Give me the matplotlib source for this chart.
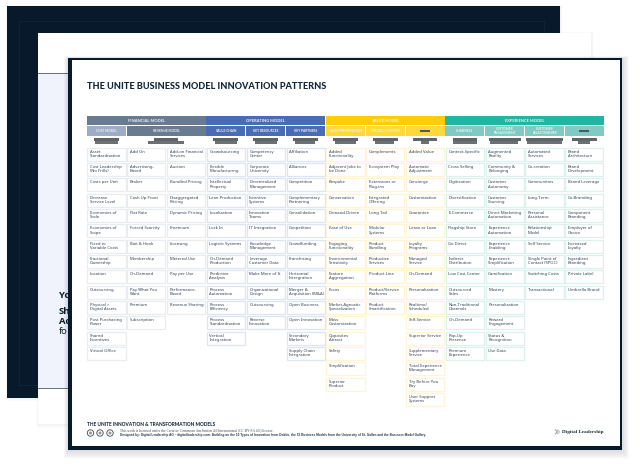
import matplotlib
matplotlib.use("Agg")
import matplotlib.pyplot as plt
from matplotlib.patches import Rectangle, Circle, Polygon

TITLE = "THE UNITE BUSINESS MODEL INNOVATION PATTERNS"
GROUPS = ["FINANCIAL MODEL", "OPERATING MODEL", "VALUE MODEL", "EXPERIENCE MODEL"]
SUBHEADS = ["COST MODEL", "REVENUE MODEL", "VALUE CHAIN", "KEY RESOURCES", "KEY PARTNERS",
            "VALUE PROPOSITION", "PRODUCT SYSTEM", "", "CHANNELS",
            "CUSTOMER\nENGAGEMENT", "CUSTOMER\nRELATIONSHIPS", ""]

col_cost = ["Asset\nStandardisation", "Cost Leadership\n(No Frills)", "Costs per Unit", "Decrease\nService Level",
            "Economies of\nScale", "Economies of\nScope", "Fixed to\nVariable Costs", "Fractional\nOwnership",
            "Location", "Outsourcing", "Physical >\nDigital Assets", "Post Purchasing\nPower",
            "Shared\nIncentives", "Virtual Office"]
col_rev1 = ["Add On", "Advertising-\nBased", "Broker", "Cash Up Front", "Flat Rate", "Forced Scarcity",
            "Bait & Hook", "Membership", "On-Demand", "Pay What You\nWant", "Premium", "Subscription"]
col_rev2 = ["Add-on Financial\nServices", "Auction", "Bundled Pricing", "Disaggregated\nPricing", "Dynamic Pricing",
            "Freemium", "Licensing", "Metered Use", "Pay per Use", "Performance-\nBased", "Revenue Sharing"]
col_chain = ["Crowdsourcing", "Flexible\nManufacturing", "Intellectual\nProperty", "Lean Production", "Localization",
             "Lock In", "Logistic Systems", "On-Demand\nProduction", "Predictive\nAnalysis", "Process\nAutomation",
             "Process\nEfficiency", "Process\nStandardisation", "Vertical\nIntegration"]
col_res = ["Competency\nCenter", "Corporate\nUniversity", "Decentralized\nManagement", "Incentive\nSystems",
           "Innovation\nTeams", "IT Integration", "Knowledge\nManagement", "Leverage\nCustomer Data",
           "Make More of It", "Organizational\nDesign", "Outsourcing", "Reverse\nInnovation"]
col_part = ["Affiliation", "Alliances", "Competition", "Complementary\nPartnering", "Consolidation", "Coopetition",
            "Crowdfunding", "Franchising", "Horizontal\nIntergration", "Merger &\nAcquisition (M&A)", "Open Business",
            "Open Innovation", "Secondary\nMarkets", "Supply Chain\nIntegration"]
col_prop = ["Added\nFunctionality", "Adjacent Jobs to\nbe Done", "Bespoke", "Conservation", "Demand-Driven",
            "Ease of Use", "Engaging\nFunctionality", "Environmental\nSensitivity", "Feature\nAggregation", "Focus",
            "Market-Agnostic\nSpecialization", "Mass\nCustomization", "Opposites\nAttract", "Safety",
            "Simplification", "Superior\nProduct"]
col_sys = ["Complements", "Ecosystem Play", "Extensions or\nPlug-ins", "Integrated\nOffering", "Long Tail",
           "Modular\nSystems", "Product\nBundling", "Productize\nServices", "Product Line",
           "Product/Service\nPlatforms", "Product\nSmartification"]
col_val = ["Added Value", "Automatic\nAdjustment", "Concierge", "Customization", "Guarantee", "Lease or Loan",
           "Loyalty\nPrograms", "Managed\nService", "On-Demand", "Personalization", "Realtime/\nScheduled",
           "Self-Service", "Superior Service", "Supplementary\nService", "Total Experience\nManagement",
           "Try Before You\nBuy", "User Support\nSystems"]
col_chan = ["Context-Specific", "Cross Selling", "Digitization", "Diversification", "E-Commerce", "Flagship Store",
            "Go Direct", "Indirect\nDistribution", "Low Cost Center", "Outsourced\nSales", "Non-Traditional\nChannels",
            "On-Demand", "Pop-Up\nPresence", "Premium\nExperience"]
col_eng = ["Augmented\nReality", "Community &\nBelonging", "Customer\nAutonomy", "Customer\nSourcing",
           "Direct Marketing\nAutomation", "Experience\nAutomation", "Experience\nEnabling", "Experience\nSimplification",
           "Gamification", "Mastery", "Personalization", "Reward\nEngagement", "Status &\nRecognition", "Use Data"]
col_rel = ["Automated\nServices", "Co-creation", "Communities", "Long-Term", "Personal\nAssistance",
           "Relationship\nModel", "Self Service", "Single Point of\nContact (SPOC)", "Switching Costs", "Transactional"]
col_brand = ["Brand\nArchitecture", "Brand\nDevelopment", "Brand Leverage", "Co-Branding", "Component\nBranding",
             "Employer of\nChoice", "Increased\nLoyalty", "Ingredient\nBranding", "Private Label", "Umbrella Brand"]
COLUMNS = [col_cost, col_rev1, col_rev2, col_chain, col_res, col_part, col_prop, col_sys, col_val,
           col_chan, col_eng, col_rel, col_brand]

FOOT_TITLE = "THE UNITE INNOVATION & TRANSFORMATION MODELS"
FOOT_1 = "This work is licensed under the Creative Commons Attribution 4.0 International (CC BY-SA 4.0) license."
FOOT_2 = ("Designed by: Digital Leadership AG – digitalleadership.com. Building on the 10 Types of Innovation from "
          "Doblin, the 55 Business Models from the University of St. Gallen and the Business Model Gallery.")
LOGO = "Digital Leadership"
BACK_TEXT = [("Yo", 296, "bold"), ("Sh", 312, "bold"), ("Ac", 322, "bold"), ("fo", 332, "normal")]

# layout of the artwork, in pixels
DARK = "#07192a"
X0, PITCH, W = 87.0, 39.82, 39.0
Y0, RPITCH, H = 147.3, 15.33, 13.7
group_span = [(0, 3), (3, 6), (6, 9), (9, 13)]
group_col = ["#697b91", "#4a6cb5", "#ffcc05", "#20b6a3"]
sub_span = [(0, 1), (1, 3), (3, 4), (4, 5), (5, 6), (6, 7), (7, 8), (8, 9), (9, 10), (10, 11), (11, 12), (12, 13)]
sub_col = ["#9dadc6", "#697b91", "#4a6cb5", "#4a6cb5", "#4a6cb5", "#ffd83c", "#ffd83c", "#ffd83c",
           "#7fcbc3", "#7fcbc3", "#7fcbc3", "#7fcbc3"]
edge_col = ["#e9edf2"] * 3 + ["#dde4f2"] * 3 + ["#fff5d6"] * 3 + ["#dcf0ed"] * 4
grey_bars = [(94, 119, 95, 118), (154, 178, 148, 184), (213, 238, 215, 237), (253, 278, 255, 277),
             (293, 318, 295, 315), (333, 358, 335, 356), (373, 398, 375, 394), (413, 437, 421, 429),
             (453, 477, 453, 477), (489, 521, 490, 518), (526, 563, 527, 562), (572, 597, 578, 590)]

fig = plt.figure(figsize=(6.4, 4.68), dpi=100, facecolor="#ffffff")
ax = fig.add_axes([0, 0, 1, 1])
ax.set_xlim(0, 640)
ax.set_ylim(468, 0)
ax.axis("off")


def rect(x0, y0, x1, y1, color, z, **kw):
    ax.add_patch(Rectangle((x0, y0), x1 - x0, y1 - y0, facecolor=color, edgecolor="none", zorder=z, **kw))


def shadow(x0, y0, x1, y1, z, spread, alpha):
    for i in range(spread, 0, -1):
        rect(x0 - i * 0.5, y0 - i * 0.2, x1 + i * 0.8, y1 + i, "#1c2a3a", z, alpha=alpha)


# back card
shadow(7, 6, 560, 398, 1, 3, 0.015)
rect(7, 6, 560, 398, DARK, 2)
ax.add_patch(Rectangle((19, 21), 525, 364, facecolor="none", edgecolor="#10263a", lw=0.6, zorder=3))

# middle card
shadow(38, 33, 591, 424, 4, 4, 0.012)
rect(38, 33, 591, 424, "#ffffff", 5)
rect(38, 73, 591, 388, "#f0f2fc", 6)
ax.plot([38, 591], [73, 73], color="#4a5866", lw=0.6, zorder=7)
ax.plot([38, 591], [388, 388], color="#4a5866", lw=0.6, zorder=7)
for s, y, wt in BACK_TEXT:
    ax.text(59, y, s, fontsize=6.8, fontweight=wt, family="Open Sans", color=DARK,
            ha="left", va="center", zorder=8)

# front card
shadow(68, 58, 622, 450, 9, 9, 0.016)
rect(68, 58, 622, 450, DARK, 10)
rect(71.5, 60, 619.5, 446, "#ffffff", 11)

ax.text(87, 86.5, TITLE, fontsize=6.6, fontweight="black", family="Lato", color="#13263a",
        ha="left", va="center", zorder=12)

for name, (a, b), c in zip(GROUPS, group_span, group_col):
    x0 = X0 + a * PITCH
    x1 = X0 + b * PITCH - 0.8
    rect(x0, 116, x1, 125.2, c, 12)
    ax.text((x0 + x1) / 2, 120.6, name, fontsize=2.9, fontweight="bold", family="Lato",
            color="#eef2f5", ha="center", va="center", zorder=13)

for name, (a, b), c, bars in zip(SUBHEADS, sub_span, sub_col, grey_bars):
    x0 = X0 + a * PITCH
    x1 = X0 + b * PITCH - 0.8
    rect(x0, 126, x1, 135.8, c, 12)
    if name:
        ax.text((x0 + x1) / 2, 131, name, fontsize=2.35, fontweight="bold", family="Lato", color="#f2f4f6",
                ha="center", va="center", linespacing=0.85, zorder=13)
    else:
        mid = (x0 + x1) / 2
        half = 11 if a == 7 else 5
        rect(mid - half, 130, mid + half, 132, "#4d5a66", 13)
    rect(bars[0], 138.2, bars[1], 141, "#5e6468", 12)
    rect(bars[2], 141, bars[3], 143.8, "#6b7074", 12)

for ci, labels in enumerate(COLUMNS):
    x = X0 + ci * PITCH
    for ri, label in enumerate(labels):
        y = Y0 + ri * RPITCH
        ax.add_patch(Rectangle((x + 0.4, y + 0.4), W - 0.8, H - 0.8, facecolor="#ffffff",
                               edgecolor=edge_col[ci], lw=0.9, zorder=12))
        ax.text(x + 3, y + 2.5, label, fontsize=3.0, fontweight="bold", family="Noto Sans",
                color="#2f3f50", ha="left", va="top", linespacing=1.02, zorder=13)

# footer
ax.text(87, 424.5, FOOT_TITLE, fontsize=3.45, fontweight="black", family="Lato", color="#1b2c3d",
        ha="left", va="center", zorder=12)
for cx in (90.5, 100, 110):
    ax.add_patch(Circle((cx, 433), 3.2, facecolor="#ffffff", edgecolor="#3a4856", lw=0.6, zorder=12))
    ax.add_patch(Circle((cx, 433), 1.5, facecolor="#8f98a2", edgecolor="none", zorder=13))
ax.text(120, 430.3, FOOT_1, fontsize=2.6, family="Liberation Serif", color="#3b4a59",
        ha="left", va="center", zorder=12)
ax.text(120, 435, FOOT_2, fontsize=2.25, fontweight="bold", family="Liberation Sans", color="#26384a",
        ha="left", va="center", zorder=12)

for dx, c in ((0, "#8d9499"), (2.2, "#b9bec2")):
    ax.add_patch(Polygon([(555 + dx, 429.5), (557.5 + dx, 431.8), (555 + dx, 434.2)], closed=False,
                         fill=False, edgecolor=c, lw=0.7, zorder=12))
ax.text(562, 431.8, LOGO, fontsize=3.7, fontweight="bold", family="Liberation Serif", color="#1a2a3a",
        ha="left", va="center", zorder=12)

fig.savefig("out.png", dpi=100, facecolor=fig.get_facecolor())
